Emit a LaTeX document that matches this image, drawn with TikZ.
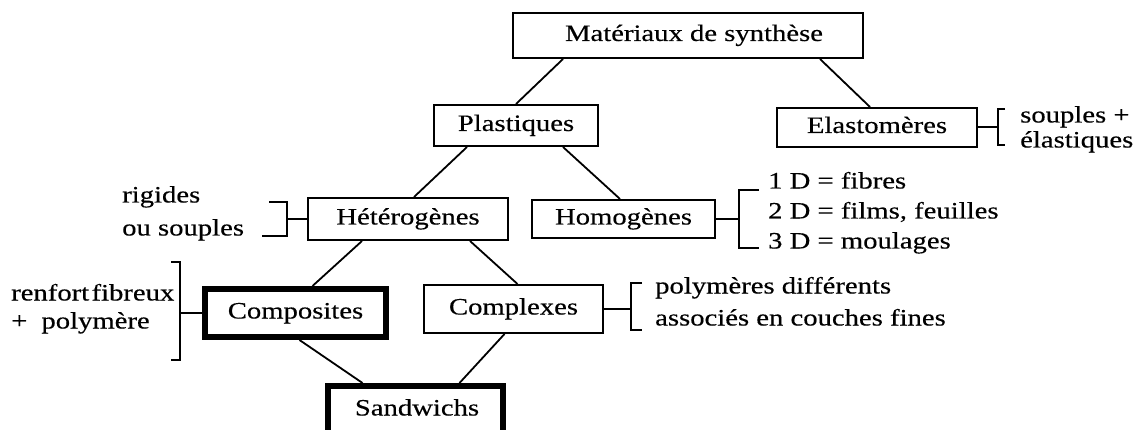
\documentclass[tikz,border=0pt]{standalone}
\usepackage{fontspec}
\setmainfont{Liberation Serif}[FakeStretch=1.22,FakeBold=0.35]
\begin{document}
\begin{tikzpicture}[x=1pt,y=-1pt,
  every node/.style={font=\fontsize{23.5}{28}\selectfont, text height=16pt, text depth=5pt},
  box/.style={draw, line width=2pt, inner sep=0pt},
  thickbox/.style={draw, line width=6pt, inner sep=0pt},
  link/.style={line width=1.8pt},
  brk/.style={line width=2pt},
  lbl/.style={anchor=west, inner sep=0pt}]
\useasboundingbox (0,0) rectangle (1145,430);
\clip (0,0) rectangle (1145,430);
\fill[white] (0,0) rectangle (1145,430);

% boxes
\node[box, minimum width=350pt, minimum height=45pt] (mat) at (688,35.5) {\hspace{12pt}Matériaux de synthèse};
\node[box, minimum width=164pt, minimum height=41pt] (pl) at (516,125.5) {Plastiques};
\node[box, minimum width=200pt, minimum height=39pt] (el) at (877,127.5) {Elastomères};
\node[box, minimum width=200pt, minimum height=42pt] (het) at (408,219) {Hétérogènes};
\node[box, minimum width=183pt, minimum height=38pt] (hom) at (623.5,219) {Homogènes};
\node[thickbox, minimum width=181pt, minimum height=48pt] (comp) at (295.5,313) {Composites};
\node[box, minimum width=179pt, minimum height=48pt] (cplx) at (513.5,309) {Complexes};
\node[thickbox, minimum width=175pt, minimum height=60pt] (sand) at (415.5,416) {};
\node (sandt) at (417,410) {Sandwichs};

% connectors
\draw[link] ([xshift=-125pt]mat.south) -- (pl.north);
\draw[link] ([xshift=132pt]mat.south) -- ([xshift=-7pt]el.north);
\draw[link] ([xshift=-49pt]pl.south) -- ([xshift=6pt]het.north);
\draw[link] ([xshift=47pt]pl.south) -- ([xshift=-3.5pt]hom.north);
\draw[link] ([xshift=-46pt]het.south) -- ([xshift=17pt]comp.north);
\draw[link] ([xshift=62pt]het.south) -- ([xshift=4pt]cplx.north);
\draw[link] ([xshift=4pt]comp.south) -- ([xshift=-53pt]sand.north);
\draw[link] ([xshift=-9pt]cplx.south) -- ([xshift=44pt]sand.north);

% brackets
\draw[brk] (el.east) -- ++(20,0) ++(7,-18) -- ++(-7,0) -- ++(0,36) -- ++(7,0);
\draw[brk] (het.west) -- ++(-20,0) ++(-18,-17) -- ++(18,0) -- ++(0,34) -- ++(-25,0);
\draw[brk] (hom.east) -- ++(23,0) ++(20,-29) -- ++(-20,0) -- ++(0,58) -- ++(20,0);
\draw[brk] (comp.west) -- ++(-22,0) ++(-9,-51) -- ++(9,0) -- ++(0,98) -- ++(-9,0);
\draw[brk] (cplx.east) -- ++(27,0) ++(11,-26) -- ++(-11,0) -- ++(0,47) -- ++(11,0);

% side texts
\node[lbl] (t1) at (1020,117) {souples +};
\node[lbl] (t2) at (1020,142) {élastiques};
\node[lbl] (t3) at (122,197) {rigides};
\node[lbl] (t4) at (122,230) {ou souples};
\node[lbl] (t5) at (768,183) {1 D = fibres};
\node[lbl] (t6) at (768,213) {2 D = films, feuilles};
\node[lbl] (t7) at (768,243) {3 D = moulages};
\node[lbl] (t8) at (11,295) {renfort\hspace{0.1em}fibreux};
\node[lbl] (t9) at (11,323) {+\hspace{0.6em}polymère};
\node[lbl] (t10) at (655,288) {polymères différents};
\node[lbl] (t11) at (655,320) {associés en couches fines};
\end{tikzpicture}
\end{document}
